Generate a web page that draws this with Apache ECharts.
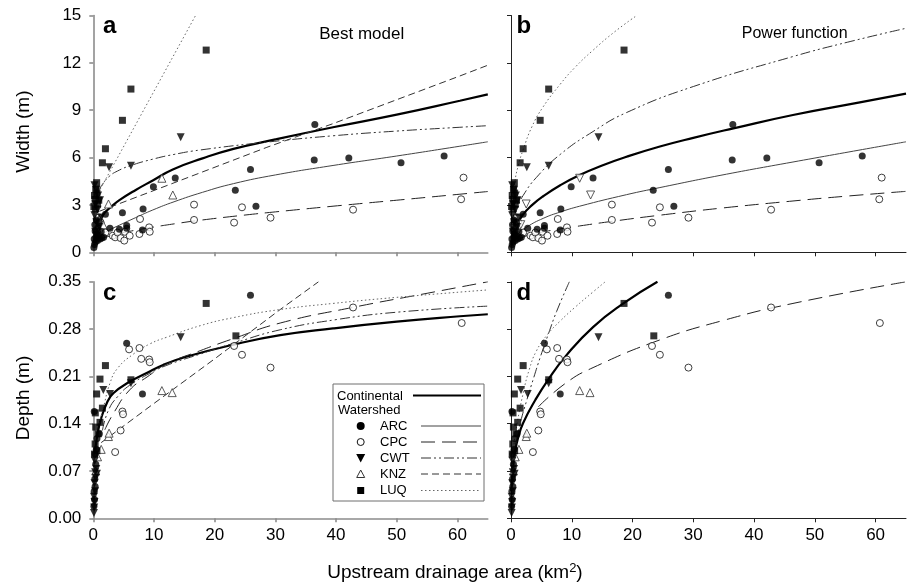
<!DOCTYPE html>
<html>
<head>
<meta charset="utf-8">
<script src="https://cdn.jsdelivr.net/npm/echarts@6/dist/echarts.min.js"></script>
<style>html,body{margin:0;padding:0;background:#fff}#chart{width:908px;height:588px}</style>
</head>
<body>
<div id="chart"></div>
<script>
// ---- tick values ----
const xTickVals = [0, 10, 20, 30, 40, 50, 60];
const widthTickVals = [0, 3, 6, 9, 12, 15];
const depthTickVals = [0, 0.07, 0.14, 0.21, 0.28, 0.35];

// ---- observed widths (upstream area km2, width m) ----
const arcWidth = [[0.1,0.3],[0.2,0.5],[0.35,0.65],[0.15,0.85],[0.45,0.95],[0.7,0.75],[0.55,1.15],[0.3,1.35],[0.9,1.05],[1.1,0.85],[1.4,0.9],[1.7,0.95],[0.75,1.55],[0.25,1.75],[1.3,1.3],[0.9,1.9],[0.5,2.05],[2.0,2.41],[2.75,1.52],[4.3,1.46],[5.5,1.69],[5.5,1.52],[8.1,1.41],[4.8,2.51],[8.2,2.74],[9.9,4.16],[13.5,4.71],[23.4,3.93],[25.9,5.25],[26.8,2.91],[36.5,8.1],[36.4,5.85],[42.1,5.97],[50.7,5.68],[57.8,6.1]];
const cpcWidth = [[0.9,2.2],[1.2,1.9],[2.0,1.25],[3.2,1.05],[3.6,0.95],[4.0,1.25],[4.5,0.9],[5.1,0.74],[5.2,1.3],[6.0,1.05],[7.6,1.16],[7.7,2.11],[9.2,1.58],[9.3,1.3],[16.6,3.02],[16.6,2.05],[23.2,1.88],[24.5,2.85],[29.2,2.19],[42.8,2.7],[60.6,3.36],[61.0,4.73]];
const cwtWidth = [[0.2,4.25],[0.5,3.95],[0.8,3.6],[1.1,3.3],[0.35,3.05],[0.7,2.7],[0.2,2.35],[1.3,2.2],[0.5,1.9],[1.0,1.6],[0.3,1.3],[0.6,1.1],[2.6,5.38],[6.2,5.49],[14.4,7.28]];
const knzWidth = [[0.6,1.5],[1.0,2.1],[1.6,1.75],[2.5,3.06],[11.3,4.69],[13.1,3.63]];
const luqWidth = [[0.1,2.9],[0.3,3.35],[0.2,3.6],[0.6,3.75],[0.4,4.0],[0.55,4.41],[0.9,3.3],[0.7,3.05],[0.35,2.75],[1.5,5.67],[2.0,6.56],[4.8,8.36],[6.2,10.34],[18.6,12.81]];

// ---- observed depths (upstream area km2, depth m) ----
const arcDepth = [[0.1,0.018],[0.2,0.028],[0.15,0.04],[0.3,0.047],[0.25,0.058],[0.4,0.08],[0.3,0.095],[0.5,0.102],[0.6,0.118],[1.0,0.125],[0.16,0.158],[5.5,0.259],[8.1,0.184],[25.9,0.330]];
const cpcDepth = [[3.6,0.098],[4.5,0.130],[4.8,0.158],[4.9,0.154],[5.9,0.250],[7.6,0.252],[7.9,0.236],[9.2,0.235],[9.3,0.231],[23.2,0.255],[24.5,0.242],[29.2,0.223],[42.8,0.312],[60.7,0.289]];
const cwtDepth = [[0.1,0.008],[0.15,0.016],[0.2,0.024],[0.1,0.032],[0.3,0.04],[0.2,0.052],[0.4,0.06],[0.3,0.068],[0.5,0.073],[0.6,0.066],[0.25,0.085],[1.65,0.19],[2.75,0.184],[6.2,0.2],[14.4,0.268]];
const knzDepth = [[0.4,0.07],[0.7,0.091],[1.3,0.102],[2.5,0.121],[2.6,0.126],[11.3,0.189],[13.0,0.186]];
const luqDepth = [[0.2,0.095],[0.6,0.1],[0.3,0.11],[0.8,0.125],[0.4,0.135],[1.1,0.142],[0.33,0.156],[1.5,0.163],[0.55,0.184],[1.1,0.206],[2.0,0.226],[6.2,0.205],[18.6,0.318],[23.5,0.27]];

// ---- fitted curves: panel a (best model, width) ----
const aContinental = [[0.1,0.6],[0.5,1.4],[1.0,2.0],[1.8,2.47],[3,2.9],[4.3,3.3],[7,3.95],[9.8,4.55],[13.1,5.25],[18,5.95],[23.1,6.55],[30,7.15],[39.5,7.92],[50,8.72],[60.4,9.6],[65,10.0]];
const aARC = [[0.2,0.55],[1,1.0],[2.5,1.38],[4.3,1.72],[7,2.2],[9.8,2.68],[13.3,3.2],[18,3.8],[23.1,4.35],[30,4.9],[39.5,5.5],[50,6.1],[60.4,6.72],[65,7.0]];
const aCPC = [[1,0.8],[2,0.95],[4,1.17],[6,1.33],[8.7,1.52],[13.3,1.8],[17.6,2.03],[25,2.36],[30,2.56],[39.5,2.92],[50,3.3],[60.4,3.68],[65,3.85]];
const aCWT = [[0.8,3.85],[1.5,4.3],[2.6,4.8],[4,5.15],[6.2,5.5],[9.8,5.9],[13.3,6.2],[17.6,6.48],[28.6,6.98],[39.5,7.38],[50,7.68],[60.4,7.92],[65,8.02]];
const aKNZ = [[1,2.6],[13.3,4.4],[28.6,6.65],[39.5,8.15],[60.4,11.17],[65,11.85]];
const aLUQ = [[0.5,3.55],[6.5,7.75],[16.85,15.0]];

// ---- panel b (power function, width) ----
const bContinental = [[0.1,0.45],[0.5,1.2],[1,1.7],[2,2.4],[3.5,3.0],[5.3,3.55],[8.1,4.25],[11.3,4.9],[15,5.5],[19,6.05],[24.5,6.7],[30,7.25],[36.6,7.85],[46.4,8.7],[57.4,9.5],[65,10.05]];
const bARC = [[0.1,0.4],[1,1.1],[2.6,1.6],[5.3,2.15],[8.1,2.55],[11.3,2.92],[19,3.65],[24.5,4.1],[34.4,4.87],[46.4,5.72],[65,7.0]];
const bCPC = [[1,0.75],[2.6,1.05],[5,1.27],[8.1,1.48],[11.3,1.67],[17,1.98],[24.5,2.35],[34.4,2.79],[46.4,3.25],[55,3.55],[65,3.86]];
const bCWT = [[0.4,2.0],[1,2.8],[2,3.6],[4.2,4.75],[8.1,6.2],[13.5,7.65],[19,8.85],[30,10.5],[46.4,12.4],[55.8,13.35],[65,14.19]];
const bLUQ = [[0.2,3.0],[0.6,4.4],[1.2,5.5],[2.0,6.5],[3.5,8.0],[5.3,9.22],[8,10.6],[10.5,11.7],[13.5,12.8],[17,13.95],[20.7,15.0]];

// ---- panel c (best model, depth) ----
const cContinental = [[0.3,0.10],[0.7,0.125],[1.2,0.145],[2.2,0.17],[3.3,0.185],[6,0.202],[8.8,0.215],[11.5,0.227],[15.3,0.239],[23.1,0.257],[30.8,0.271],[39.5,0.281],[50,0.291],[60.4,0.299],[65,0.302]];
const cCPC = [[1.9,0.131],[3.3,0.155],[6,0.19],[9,0.21],[12,0.228],[17.6,0.248],[23.1,0.266],[30.8,0.289],[42.7,0.312],[55,0.333],[65,0.35]];
const cCWT = [[1.5,0.13],[2.5,0.16],[4,0.18],[6,0.197],[9,0.213],[12,0.226],[17.6,0.243],[23.1,0.259],[30.8,0.279],[40,0.294],[50,0.305],[65,0.314]];
const cKNZ = [[1.3,0.112],[10,0.17],[20,0.236],[30.8,0.309],[37.1,0.35]];
const cLUQ = [[1.0,0.14],[1.7,0.165],[2.75,0.2],[4,0.222],[6.6,0.243],[9.3,0.258],[12.1,0.268],[17.6,0.285],[23.1,0.297],[30.8,0.309],[39.5,0.318],[50,0.327],[65,0.338]];

// ---- panel d (power function, depth) ----
const dContinental = [[0.05,0.04],[0.3,0.07],[0.7,0.1],[1.2,0.12],[2,0.141],[4,0.175],[6.1,0.205],[9,0.24],[13.5,0.283],[18.5,0.318],[24.1,0.35]];
const dCPC = [[4.5,0.165],[9,0.2],[13.5,0.223],[24.5,0.264],[35,0.293],[46.4,0.318],[65,0.35]];
const dCWT = [[0.8,0.11],[1.5,0.14],[2.6,0.175],[3.7,0.207],[4.8,0.238],[6.2,0.274],[7.5,0.306],[9.6,0.35]];
const dLUQ = [[0.5,0.11],[1,0.14],[2,0.185],[3,0.22],[4.2,0.248],[6,0.272],[8.1,0.292],[10.5,0.312],[13.5,0.335],[15.5,0.35]];

// ---------------------------------------------------------------
const FONT = 'Liberation Sans, Arial, sans-serif';
const chart = echarts.init(document.getElementById('chart'), null, {renderer: 'canvas'});

const grids = [
  {left: 93.3, top: 15.5, width: 394.5, height: 236.8},
  {left: 511, top: 15.5, width: 395, height: 236.8},
  {left: 93.3, top: 281.8, width: 394.5, height: 236.5},
  {left: 511, top: 281.8, width: 395, height: 236.5}
];
const axisCol = ['#8c8c8c', '#222', '#8c8c8c', '#222'];
const axisW = [1.6, 1, 1.6, 1];

const xAxes = grids.map((g, i) => ({
  type: 'value', gridIndex: i, min: 0, max: 65, interval: 10,
  axisLine: {show: true, onZero: false, lineStyle: {color: axisCol[i], width: axisW[i]}},
  axisTick: {show: true, inside: false, length: 4, customValues: xTickVals, lineStyle: {color: axisCol[i], width: axisW[i]}},
  axisLabel: {show: i >= 2, customValues: xTickVals, fontSize: 17, color: '#000', fontFamily: FONT, margin: 9},
  splitLine: {show: false}
}));
const yAxes = grids.map((g, i) => {
  const depth = i >= 2;
  return {
    type: 'value', gridIndex: i, min: 0, max: depth ? 0.35 : 15, interval: depth ? 0.07 : 3,
    axisLine: {show: true, onZero: false, lineStyle: {color: axisCol[i], width: axisW[i]}},
    axisTick: {show: true, inside: false, length: 4, customValues: depth ? depthTickVals : widthTickVals, lineStyle: {color: axisCol[i], width: axisW[i]}},
    axisLabel: {show: i === 0 || i === 2, customValues: depth ? depthTickVals : widthTickVals, fontSize: 17, color: '#000', fontFamily: FONT, margin: 12,
      formatter: v => depth ? Number(v).toFixed(2) : String(Math.round(v))},
    splitLine: {show: false}
  };
});

const styles = {
  continental: {color: '#000', width: 2.2, type: 'solid'},
  ARC: {color: '#444', width: 1, type: 'solid'},
  CPC: {color: '#222', width: 1, type: [14, 7]},
  CWT: {color: '#333', width: 1, type: [10, 3, 2, 3, 2, 3]},
  KNZ: {color: '#333', width: 1, type: [7, 4]},
  LUQ: {color: '#666', width: 1, type: [1.5, 2.5]}
};

function lineSeries(data, gi, key, smooth) {
  return {
    type: 'line', xAxisIndex: gi, yAxisIndex: gi, data: data, showSymbol: false, symbol: 'none',
    smooth: smooth === false ? false : 0.5, silent: true, z: 2,
    lineStyle: Object.assign({}, styles[key]), clip: true
  };
}
function scatterSeries(data, gi, site) {
  const base = {type: 'scatter', xAxisIndex: gi, yAxisIndex: gi, data: data, silent: true, z: 3, symbolSize: 7};
  if (site === 'ARC') return Object.assign(base, {symbol: 'circle', itemStyle: {color: '#000'}});
  if (site === 'CPC') return Object.assign(base, {symbol: 'circle', itemStyle: {color: '#fff', borderColor: '#111', borderWidth: 1}});
  if (site === 'CWT') return Object.assign(base, {symbol: 'triangle', symbolRotate: 180, symbolSize: 8, itemStyle: {color: '#000'}});
  if (site === 'KNZ') return Object.assign(base, {symbol: 'triangle', symbolRotate: gi === 1 ? 180 : 0, symbolSize: 8, itemStyle: {color: '#fff', borderColor: '#333', borderWidth: 1}});
  return Object.assign(base, {symbol: 'rect', symbolSize: 7, itemStyle: {color: '#000'}});
}

const series = [];
// curves
series.push(lineSeries(aContinental, 0, 'continental'));
series.push(lineSeries(aARC, 0, 'ARC'));
series.push(lineSeries(aCPC, 0, 'CPC'));
series.push(lineSeries(aCWT, 0, 'CWT'));
series.push(lineSeries(aKNZ, 0, 'KNZ', false));
series.push(lineSeries(aLUQ, 0, 'LUQ', false));
series.push(lineSeries(bContinental, 1, 'continental'));
series.push(lineSeries(bARC, 1, 'ARC'));
series.push(lineSeries(bCPC, 1, 'CPC'));
series.push(lineSeries(bCWT, 1, 'CWT'));
series.push(lineSeries(bLUQ, 1, 'LUQ'));
series.push(lineSeries(cContinental, 2, 'continental'));
series.push(lineSeries(cCPC, 2, 'CPC'));
series.push(lineSeries(cCWT, 2, 'CWT'));
series.push(lineSeries(cKNZ, 2, 'KNZ', false));
series.push(lineSeries(cLUQ, 2, 'LUQ'));
series.push(lineSeries(dContinental, 3, 'continental'));
series.push(lineSeries(dCPC, 3, 'CPC'));
series.push(lineSeries(dCWT, 3, 'CWT'));
series.push(lineSeries(dLUQ, 3, 'LUQ'));
// points
[0, 1].forEach(gi => {
  series.push(scatterSeries(cpcWidth, gi, 'CPC'));
  series.push(scatterSeries(knzWidth, gi, 'KNZ'));
  series.push(scatterSeries(arcWidth, gi, 'ARC'));
  series.push(scatterSeries(cwtWidth, gi, 'CWT'));
  series.push(scatterSeries(luqWidth, gi, 'LUQ'));
});
[2, 3].forEach(gi => {
  series.push(scatterSeries(cpcDepth, gi, 'CPC'));
  series.push(scatterSeries(knzDepth, gi, 'KNZ'));
  series.push(scatterSeries(arcDepth, gi, 'ARC'));
  series.push(scatterSeries(cwtDepth, gi, 'CWT'));
  series.push(scatterSeries(luqDepth, gi, 'LUQ'));
});

// ---- legend and texts (graphic) ----
const legendRows = [
  {name: 'ARC', y: 426},
  {name: 'CPC', y: 442},
  {name: 'CWT', y: 458},
  {name: 'KNZ', y: 474},
  {name: 'LUQ', y: 490.5}
];
const g = [];
function txt(text, x, y, size, opts) {
  return Object.assign({type: 'text', z: 100, x: x, y: y, style: Object.assign({text: text, fontSize: size, fontFamily: FONT, fill: '#000', verticalAlign: 'middle', align: 'left'}, opts || {})});
}
g.push({type: 'rect', z: 90, shape: {x: 333, y: 384, width: 151, height: 117}, style: {fill: '#fff', stroke: '#6e6e6e', lineWidth: 1}});
g.push(txt('Continental', 337, 396, 13));
g.push(txt('Watershed', 338, 410, 13));
g.push({type: 'line', z: 100, shape: {x1: 413, y1: 395.5, x2: 481, y2: 395.5}, style: {stroke: '#000', lineWidth: 2.2}});
legendRows.forEach(r => {
  g.push(txt(r.name, 380, r.y, 13));
  const st = styles[r.name];
  g.push({type: 'line', z: 100, shape: {x1: 421, y1: r.y, x2: 481, y2: r.y}, style: {stroke: st.color, lineWidth: 1, lineDash: Array.isArray(st.type) ? st.type : null}});
  const cx = 360.7, cy = r.y;
  if (r.name === 'ARC') g.push({type: 'circle', z: 100, shape: {cx: cx, cy: cy, r: 4}, style: {fill: '#000'}});
  if (r.name === 'CPC') g.push({type: 'circle', z: 100, shape: {cx: cx, cy: cy, r: 3.5}, style: {fill: '#fff', stroke: '#111', lineWidth: 1}});
  if (r.name === 'CWT') g.push({type: 'polygon', z: 100, shape: {points: [[cx - 4.5, cy - 4], [cx + 4.5, cy - 4], [cx, cy + 4.5]]}, style: {fill: '#000'}});
  if (r.name === 'KNZ') g.push({type: 'polygon', z: 100, shape: {points: [[cx - 4, cy + 3.5], [cx + 4, cy + 3.5], [cx, cy - 4]]}, style: {fill: '#fff', stroke: '#333', lineWidth: 1}});
  if (r.name === 'LUQ') g.push({type: 'rect', z: 100, shape: {x: cx - 3.5, y: cy - 3.5, width: 7, height: 7}, style: {fill: '#000'}});
});
// panel letters
g.push(txt('a', 103, 26.5, 24, {fontWeight: 'bold'}));
g.push(txt('b', 516.5, 26.5, 24, {fontWeight: 'bold'}));
g.push(txt('c', 103, 293.3, 24, {fontWeight: 'bold'}));
g.push(txt('d', 516.5, 293.3, 24, {fontWeight: 'bold'}));
// panel subtitles
g.push(txt('Best model', 361.7, 34, 17, {align: 'center'}));
g.push(txt('Power function', 794.7, 34, 16, {align: 'center'}));
// axis titles
g.push({type: 'text', z: 100, x: 24, y: 131.7, rotation: Math.PI / 2, style: {text: 'Width (m)', fontSize: 19, fontFamily: FONT, fill: '#000', align: 'center', verticalAlign: 'middle'}});
g.push({type: 'text', z: 100, x: 24, y: 398, rotation: Math.PI / 2, style: {text: 'Depth (m)', fontSize: 19, fontFamily: FONT, fill: '#000', align: 'center', verticalAlign: 'middle'}});
g.push({type: 'text', z: 100, x: 455, y: 573, style: {
  text: 'Upstream drainage area (km{sup|2})', fontSize: 19, fontFamily: FONT, fill: '#000', align: 'center', verticalAlign: 'middle',
  rich: {sup: {fontSize: 13, fontFamily: FONT, fill: '#000', verticalAlign: 'top', padding: [0, 0, 9, 0]}}
}});

chart.setOption({
  animation: false,
  backgroundColor: '#fff',
  grid: grids.map(gr => Object.assign({containLabel: false, show: false}, gr)),
  xAxis: xAxes,
  yAxis: yAxes,
  series: series,
  graphic: g
});
</script>
</body>
</html>
